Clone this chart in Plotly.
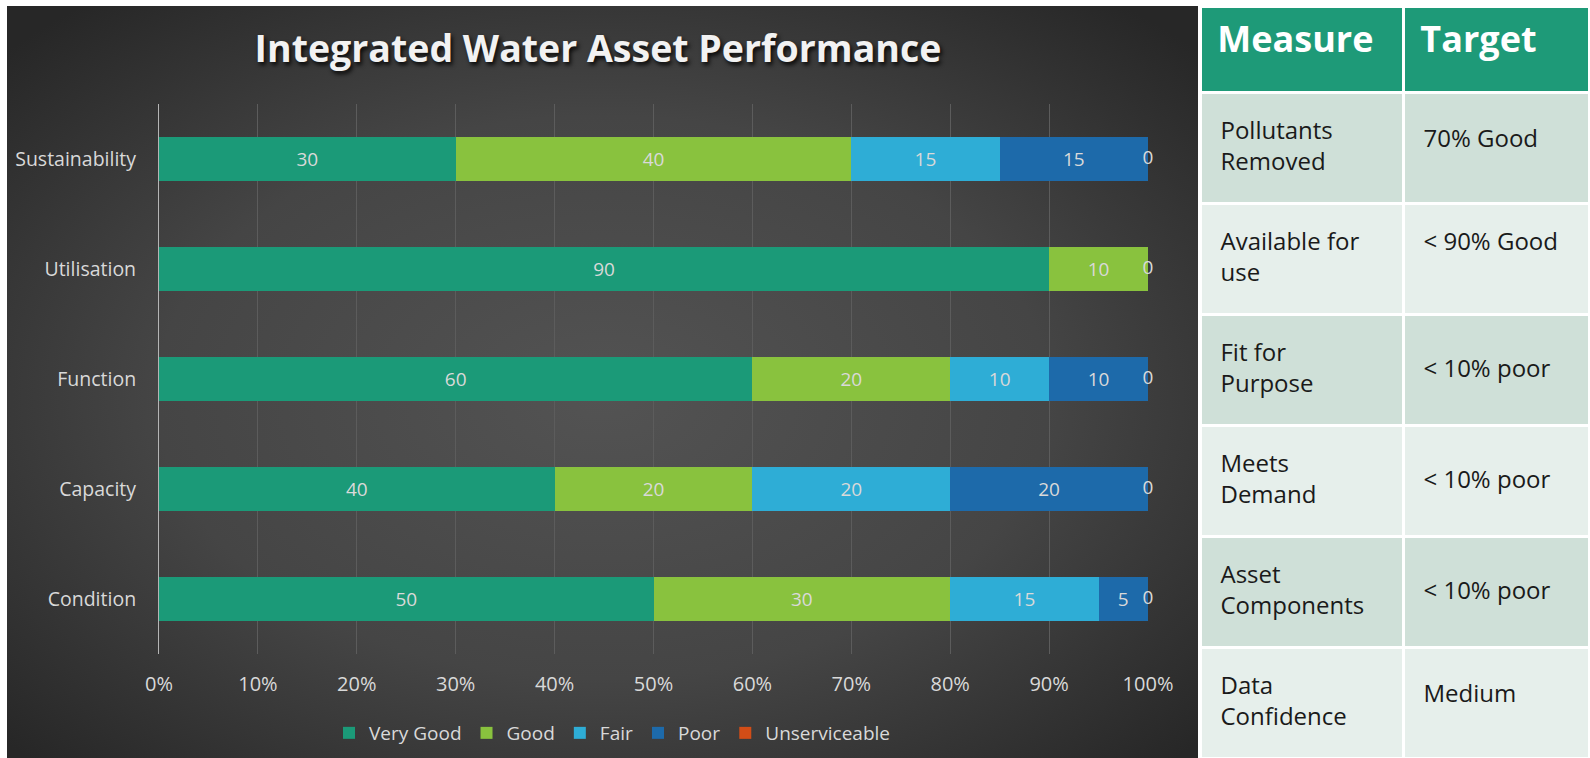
import base64
import plotly.graph_objects as go

# ---------------- data ----------------
categories = ["Sustainability", "Utilisation", "Function", "Capacity", "Condition"]
series_names = ["Very Good", "Good", "Fair", "Poor", "Unserviceable"]
very_good = [30, 90, 60, 40, 50]
good = [40, 10, 20, 20, 30]
fair = [15, 0, 10, 20, 15]
poor = [15, 0, 10, 20, 5]
unserviceable = [0, 0, 0, 0, 0]
x_tick_values = [0, 10, 20, 30, 40, 50, 60, 70, 80, 90, 100]
x_tick_labels = ["0%", "10%", "20%", "30%", "40%", "50%", "60%", "70%", "80%", "90%", "100%"]
chart_title = "Integrated Water Asset Performance"

table_headers = ["Measure", "Target"]
table_measures = ["Pollutants<br>Removed", "Available for<br>use", "Fit for<br>Purpose",
                  "Meets<br>Demand", "Asset<br>Components", "Data<br>Confidence"]
table_targets = ["70% Good", "< 90% Good", "< 10% poor", "< 10% poor", "< 10% poor", "Medium"]
# target text sits on the first line of its cell (True) or is centred (False)
target_on_first_line = [False, True, False, False, False, False]

# ---------------- styles ----------------
series_colors = ["#1b9a78", "#89c23e", "#2eadd6", "#1d6aaa", "#d24d17"]
FONT = "Open Sans"
W, H = 1590, 758
LABEL = "#d9d9d9"
TABLE_TOP = 6
HEADER_H = 86
ROW_H = 111
SHIFT_TWO_LINE = 13     # centres a two-line block in a row
SHIFT_ONE_LINE = 29     # centres a one-line block in a row


def px_x(p):
    return p / W


def px_y(p):
    return 1 - p / H


series_values = [very_good, good, fair, poor, unserviceable]

fig = go.Figure()
for name, vals, col in zip(series_names, series_values, series_colors):
    fig.add_trace(go.Bar(
        y=categories, x=vals, name=name, orientation="h",
        marker=dict(color=col, line=dict(width=0)),
        text=[str(v) if v else "" for v in vals],
        textposition="inside", insidetextanchor="middle", textangle=0,
        constraintext="none",
        textfont=dict(family=FONT, size=19, color=LABEL),
    ))

# end-of-bar labels for the zero-valued Unserviceable series
totals = [sum(s[i] for s in series_values) for i in range(len(categories))]
fig.add_trace(go.Scatter(
    y=categories, x=totals, mode="text", text=[str(v) for v in unserviceable],
    textposition="middle center", showlegend=False, cliponaxis=False,
    textfont=dict(family=FONT, size=19, color=LABEL), hoverinfo="skip",
))


# ---------------- table ----------------
def pad(s, n=2):
    s = s.replace("<br>", "\n").replace("<", "&lt;")
    return "<br>".join("\u00a0" * n + line for line in s.split("\n"))


n_rows = len(table_measures)
row_fill = ["#cfe0d8" if i % 2 == 0 else "#e6efeb" for i in range(n_rows)]
table_domain = dict(x=[px_x(1200), 1], y=[0, px_y(TABLE_TOP)])
colw = [203, 186]
clear = "rgba(0,0,0,0)"

# fills + header
fig.add_trace(go.Table(
    domain=table_domain, columnwidth=colw,
    header=dict(values=["<b>" + pad(h, 1) + "</b>" for h in table_headers],
                fill_color="#1e9a78", line=dict(color="white", width=3),
                align="left", font=dict(family=FONT, size=36, color="white"), height=HEADER_H),
    cells=dict(values=[[""] * n_rows, [""] * n_rows],
               fill_color=[row_fill, row_fill], line=dict(color="white", width=3),
               align="left", font=dict(family=FONT, size=24, color="#1a1a1a"), height=ROW_H),
))
# two-line text blocks (measures, first-line targets)
fig.add_trace(go.Table(
    domain=table_domain, columnwidth=colw,
    header=dict(values=["", ""], fill_color=clear, line=dict(color=clear, width=0),
                height=HEADER_H + SHIFT_TWO_LINE),
    cells=dict(values=[[pad(m) for m in table_measures],
                       [pad(t) if top else "" for t, top in zip(table_targets, target_on_first_line)]],
               fill_color=clear, line=dict(color=clear, width=0),
               align="left", font=dict(family=FONT, size=24, color="#1a1a1a"), height=ROW_H),
))
# one-line centred targets
fig.add_trace(go.Table(
    domain=table_domain, columnwidth=colw,
    header=dict(values=["", ""], fill_color=clear, line=dict(color=clear, width=0),
                height=HEADER_H + SHIFT_ONE_LINE),
    cells=dict(values=[[""] * n_rows,
                       ["" if top else pad(t) for t, top in zip(table_targets, target_on_first_line)]],
               fill_color=clear, line=dict(color=clear, width=0),
               align="left", font=dict(family=FONT, size=24, color="#1a1a1a"), height=ROW_H),
))

# radial-gradient panel background (decoration)
svg = ('<svg xmlns="http://www.w3.org/2000/svg" width="1191" height="752" viewBox="0 0 1191 752">'
       '<defs><radialGradient id="g" cx="50%" cy="52%" r="68%">'
       '<stop offset="0%" stop-color="#535353"/><stop offset="55%" stop-color="#454545"/>'
       '<stop offset="100%" stop-color="#272727"/></radialGradient></defs>'
       '<rect width="1191" height="752" fill="url(#g)"/></svg>')
bg_uri = "data:image/svg+xml;base64," + base64.b64encode(svg.encode()).decode()

fig.update_layout(
    width=W, height=H, autosize=False,
    margin=dict(l=0, r=0, t=0, b=0, pad=0, autoexpand=False),
    paper_bgcolor="white", plot_bgcolor="rgba(0,0,0,0)",
    barmode="stack", bargap=0.595,
    images=[dict(source=bg_uri, xref="paper", yref="paper", x=px_x(7), y=px_y(6),
                 sizex=px_x(1198 - 7), sizey=(758 - 6) / H, xanchor="left", yanchor="top",
                 sizing="stretch", layer="below")],
    title=dict(text="<b>" + chart_title + "</b>", x=px_x(598), y=px_y(49),
               xref="paper", yref="paper", xanchor="center", yanchor="middle",
               automargin=False,
               font=dict(family=FONT, size=37.5, color="#f2f2f2",
                         shadow="2px 3px 4px rgba(0,0,0,0.85)")),
    xaxis=dict(domain=[px_x(159), px_x(1148)], range=[0, 100], automargin=False,
               tickvals=x_tick_values, ticktext=x_tick_labels,
               showgrid=True, gridcolor="#5c5c5c", gridwidth=1, zeroline=False,
               showline=False, ticks="", ticklabelstandoff=16,
               tickfont=dict(family=FONT, size=20, color=LABEL), fixedrange=True),
    yaxis=dict(domain=[px_y(654), px_y(104)], categoryorder="array", categoryarray=categories,
               autorange="reversed", showgrid=False, zeroline=False, automargin=False,
               showline=True, linecolor="#b5b5b5", linewidth=1, ticks="",
               ticklabelstandoff=18,
               tickfont=dict(family=FONT, size=19.5, color=LABEL), fixedrange=True),
    legend=dict(orientation="h", x=px_x(612), xanchor="center", y=px_y(733), yanchor="middle",
                font=dict(family=FONT, size=19, color=LABEL), bgcolor="rgba(0,0,0,0)",
                traceorder="normal"),
    showlegend=True,
)

fig.write_html(
    "out.html",
    config={"responsive": False, "displayModeBar": False},
    post_script="document.body.style.margin='0';document.body.style.overflow='hidden';",
)
